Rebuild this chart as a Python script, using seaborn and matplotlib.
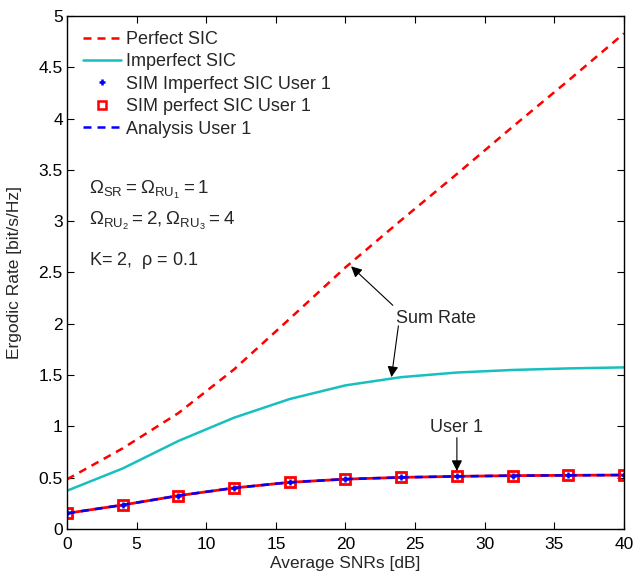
import numpy as np
import pandas as pd
import matplotlib
matplotlib.use("Agg")
import matplotlib.pyplot as plt
from matplotlib.lines import Line2D
from matplotlib.ticker import MultipleLocator, FormatStrFormatter
import seaborn as sns

# ---- data ----
snr_db = [0, 4, 8, 12, 16, 20, 24, 28, 32, 36, 40]
perfect_sic = [0.484, 0.786, 1.13, 1.556, 2.05, 2.55, 3.01, 3.46, 3.92, 4.37, 4.83]
imperfect_sic = [0.373, 0.59, 0.858, 1.085, 1.267, 1.40, 1.48, 1.525, 1.55, 1.565, 1.575]
sim_imperfect_user1 = [0.153, 0.234, 0.325, 0.40, 0.455, 0.486, 0.503, 0.513, 0.52, 0.523, 0.526]
sim_perfect_user1 = [0.153, 0.234, 0.325, 0.40, 0.455, 0.486, 0.503, 0.513, 0.52, 0.523, 0.526]
analysis_user1 = [0.153, 0.234, 0.325, 0.40, 0.455, 0.486, 0.503, 0.513, 0.52, 0.523, 0.526]

legend_labels = ["Perfect SIC", "Imperfect SIC", "SIM Imperfect SIC User 1",
                 "SIM perfect SIC User 1", "Analysis User 1"]

sns.set_style("ticks")
plt.rcParams['font.family'] = ['Liberation Sans', 'DejaVu Sans']
plt.rcParams['mathtext.default'] = 'regular'

RED = '#ff0000'
CYAN = '#17bfbf'
BLUE = '#0000ff'

fig = plt.figure(figsize=(6.34, 5.77), dpi=100)
ax = fig.add_axes([0.1057, 0.0832, 0.8785, 0.8891])

df = pd.DataFrame({"snr": snr_db, "perfect": perfect_sic, "imperfect": imperfect_sic,
                   "sim_imp": sim_imperfect_user1, "sim_perf": sim_perfect_user1,
                   "ana": analysis_user1})

dash = (0, (3.2, 2.4))
sns.lineplot(data=df, x="snr", y="perfect", ax=ax, color=RED, lw=1.8,
             linestyle=dash, errorbar=None, legend=False)
sns.lineplot(data=df, x="snr", y="imperfect", ax=ax, color=CYAN, lw=1.8,
             errorbar=None, legend=False)
# user 1 curves
sns.lineplot(data=df, x="snr", y="sim_perf", ax=ax, color=RED, lw=2.0,
             marker='s', markersize=7.5, markerfacecolor='none',
             markeredgecolor=RED, markeredgewidth=2.0,
             errorbar=None, legend=False)
sns.lineplot(data=df, x="snr", y="ana", ax=ax, color=BLUE, lw=1.8,
             linestyle=dash, errorbar=None, legend=False)
sns.lineplot(data=df, x="snr", y="sim_imp", ax=ax, color=BLUE, lw=0,
             marker='+', markersize=5, markeredgecolor=BLUE, markeredgewidth=1.8,
             errorbar=None, legend=False)

ax.set_xlim(0, 40)
ax.set_ylim(0, 5)
ax.xaxis.set_major_locator(MultipleLocator(5))
ax.yaxis.set_major_locator(MultipleLocator(0.5))
ax.yaxis.set_major_formatter(FormatStrFormatter('%g'))
ax.xaxis.set_major_formatter(FormatStrFormatter('%g'))
ax.tick_params(direction='in', length=5, width=0.8, top=True, right=True,
               labelsize=12.5, colors='black')
ax.tick_params(axis='x', pad=6)
ax.tick_params(axis='y', pad=3)
for s in ax.spines.values():
    s.set_linewidth(1.0)
    s.set_color('black')

ax.set_xlabel("Average SNRs [dB]", fontsize=12.5, labelpad=3)
ax.set_ylabel("Ergodic Rate [bit/s/Hz]", fontsize=12.5, labelpad=12)

handles = [
    Line2D([], [], color=RED, lw=1.8, linestyle=dash),
    Line2D([], [], color=CYAN, lw=1.8),
    Line2D([], [], color=BLUE, lw=0, marker='+', markersize=5, markeredgewidth=1.8),
    Line2D([], [], color=RED, lw=0, marker='s', markersize=6, markerfacecolor='none',
           markeredgewidth=1.8),
    Line2D([], [], color=BLUE, lw=1.8, linestyle=dash),
]
ax.legend(handles, legend_labels, loc='upper left', bbox_to_anchor=(0.022, 0.978),
          frameon=False, fontsize=13, handlelength=2.1, handletextpad=0.3,
          labelspacing=0.3, borderpad=0.2, borderaxespad=0)

# parameter text
ax.text(1.6, 3.3, r'$\Omega_{SR} = \Omega_{RU_1} = 1$', fontsize=13.5, va='center')
ax.text(1.6, 3.0, r'$\Omega_{RU_2} = 2, \Omega_{RU_3} = 4$', fontsize=13.5, va='center')
ax.text(1.6, 2.62, r'K= 2,  $\rho$ = 0.1', fontsize=13, va='center')

# annotations
arrow = dict(arrowstyle='-|>', color='black', lw=0.8, mutation_scale=16,
             shrinkA=0, shrinkB=0)
ax.text(26.5, 2.05, "Sum Rate", fontsize=13, ha='center', va='center')
ax.annotate("", xy=(20.4, 2.56), xytext=(23.4, 2.18), arrowprops=arrow)
ax.annotate("", xy=(23.3, 1.48), xytext=(23.8, 1.98), arrowprops=arrow)
ax.text(28.0, 0.99, "User 1", fontsize=13, ha='center', va='center')
ax.annotate("", xy=(28.0, 0.565), xytext=(28.0, 0.89), arrowprops=arrow)

fig.savefig("out.png", dpi=100)
